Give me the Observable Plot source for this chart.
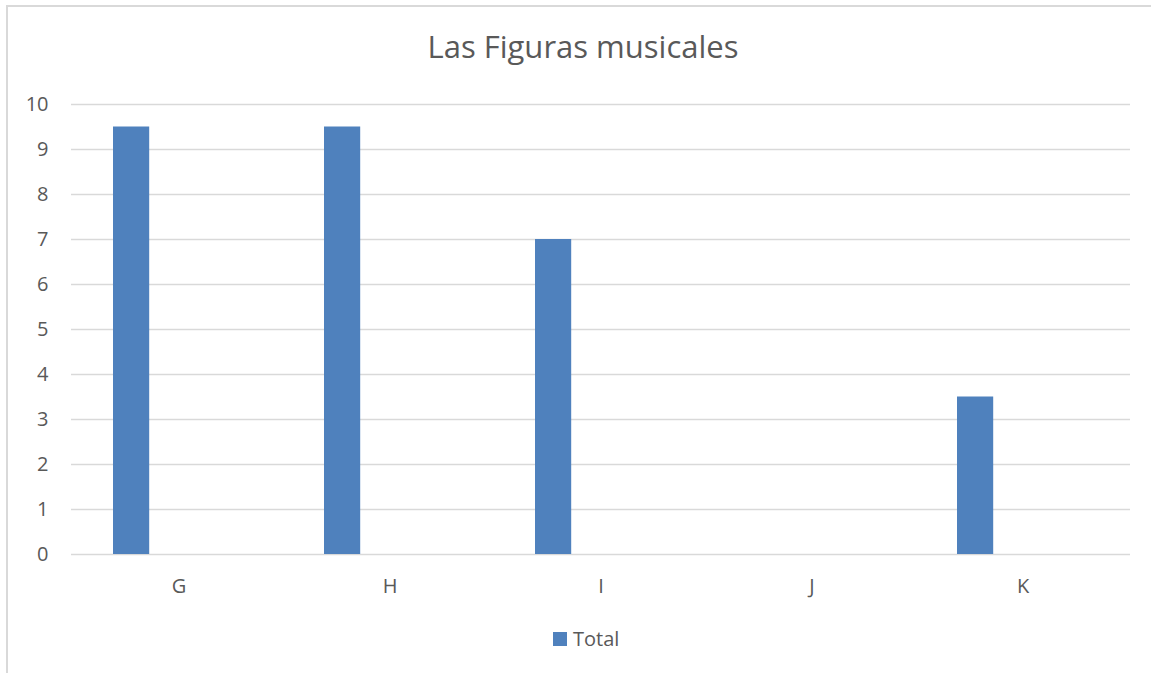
<!DOCTYPE html>
<html>
<head>
<meta charset="utf-8">
<script src="https://cdn.jsdelivr.net/npm/d3@7"></script>
<script src="https://cdn.jsdelivr.net/npm/@observablehq/plot@0.6"></script>
<style>
  html, body { margin: 0; padding: 0; background: #ffffff; }
  body { width: 1151px; height: 673px; position: relative; overflow: hidden; font-family: "Open Sans", "Noto Sans", sans-serif; }
  #frame { position: absolute; left: 6px; top: 5px; width: 1200px; height: 700px; border-left: 2px solid #d9d9d9; border-top: 2px solid #d9d9d9; box-sizing: border-box; }
  #title { position: absolute; left: 0; top: 26px; width: 1166px; text-align: center; font-size: 31px; color: #595959; line-height: 40px; }
  #chart { position: absolute; left: 0; top: 70px; }
  #legend { position: absolute; left: 553px; top: 624px; font-size: 20px; color: #595959; display: flex; align-items: center; line-height: 30px; }
  #legend .sw { width: 14px; height: 14px; margin-right: 6px; display: inline-block; }
</style>
</head>
<body>
<div id="frame"></div>
<div id="title"></div>
<div id="chart"></div>
<div id="legend"></div>
<script>
const chartTitle = "Las Figuras musicales";
const seriesName = "Total";
const categories = ["G", "H", "I", "J", "K"];
const totals = [9.5, 9.5, 7, 0, 3.5];
const yTicks = [0, 1, 2, 3, 4, 5, 6, 7, 8, 9, 10];
const barColor = "#4f81bd";

const data = categories.map((c, i) => ({category: c, value: totals[i]}));

document.getElementById("title").textContent = chartTitle;

const plot = Plot.plot({
  width: 1151,
  height: 545,
  marginLeft: 71,
  marginRight: 21,
  marginTop: 34,
  marginBottom: 61,
  style: {fontFamily: "'Open Sans', 'Noto Sans', sans-serif", fontSize: "20px", color: "#595959", background: "transparent"},
  x: {domain: categories, padding: 0, label: null, tickSize: 0, tickPadding: 24},
  y: {domain: [0, 10], ticks: yTicks, label: null, tickSize: 0, tickPadding: 23, tickFormat: d3.format("d")},
  marks: [
    Plot.ruleY(yTicks, {stroke: "#d9d9d9", strokeWidth: 1.6}),
    Plot.barY(data, {x: "category", y: "value", fill: barColor, insetLeft: 40, insetRight: 134.8}),
    Plot.axisX({tickSize: 0, tickPadding: 24, fill: "#595959"}),
    Plot.axisY({ticks: yTicks, tickSize: 0, tickPadding: 23, tickFormat: d3.format("d"), fill: "#595959"})
  ]
});
document.getElementById("chart").appendChild(plot);

const legend = document.getElementById("legend");
const sw = document.createElement("span");
sw.className = "sw";
sw.style.background = barColor;
legend.appendChild(sw);
const lt = document.createElement("span");
lt.textContent = seriesName;
legend.appendChild(lt);
</script>
</body>
</html>
